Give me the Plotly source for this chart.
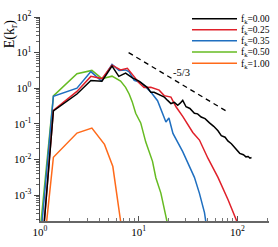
import plotly.graph_objects as go

# ---- data ----
k_f000 = [1.0, 1.367, 2.369, 3.276, 4.242, 5.365, 6.29, 7.366, 8.63, 10.07, 12.27, 13.26, 14.32,
          15.5, 16.77, 18.2, 19.63, 21.21, 23.0, 24.83, 26.3, 27.92, 30.17, 33.0, 36.67, 39.5,
          42.93, 47.0, 52.15, 57.5, 63.55, 68.67, 75.0, 80.0, 86.87, 95.0, 105.6, 115.0, 122.0,
          128.6, 134.0, 138.9]
E_f000 = [6e-6, 0.232, 0.688, 1.65, 1.58, 4.19, 2.15, 2.66, 1.95, 1.58, 1.04, 0.765, 0.765,
          0.70, 0.619, 0.56, 0.454, 0.37, 0.40, 0.333, 0.38, 0.454, 0.301, 0.27, 0.198, 0.19,
          0.155, 0.14, 0.106, 0.085, 0.0635, 0.0465, 0.042, 0.033, 0.0276, 0.021, 0.0148, 0.0135,
          0.0118, 0.0121, 0.0108, 0.0113]

k_f025 = [1.0, 1.367, 2.369, 3.276, 4.242, 5.365, 6.552, 7.67, 8.95, 10.0, 11.33, 13.26, 16.11,
          18.12, 21.21, 23.86, 27.92, 31.41, 35.32, 41.24, 50.23, 63.55, 80.38, 101.6]
E_f025 = [6e-6, 0.239, 0.814, 2.15, 1.86, 4.45, 3.26, 3.63, 2.15, 1.45, 1.04, 1.06, 0.883,
          0.619, 0.561, 0.301, 0.161, 0.0957, 0.0571, 0.035, 0.0108, 0.00313, 0.000733, 0.00015]

k_f035 = [1.0, 1.367, 2.369, 3.276, 4.193, 5.365, 6.32, 7.366, 8.0, 9.0, 10.48, 12.27, 13.26,
          15.52, 17.45, 18.86, 20.24, 22.23, 27.92, 31.41, 36.67, 41.24, 46.38, 48.28]
E_f035 = [4e-5, 0.589, 1.0, 2.93, 1.58, 4.65, 3.16, 3.26, 2.88, 1.65, 1.45, 0.94, 0.78,
          0.445, 0.198, 0.113, 0.145, 0.0537, 0.0165, 0.00794, 0.00313, 0.00111, 0.00032, 0.00015]

k_f050 = [1.0, 1.367, 2.369, 3.354, 4.242, 5.365, 6.552, 7.366, 8.0, 8.586, 9.32, 10.48, 11.79,
          13.8, 14.91, 16.77, 19.63]
E_f050 = [9e-5, 0.608, 2.54, 3.16, 1.86, 2.18, 1.58, 1.06, 0.688, 0.419, 0.198, 0.106, 0.0306,
          0.00883, 0.00306, 0.00113, 0.00015]

k_f100 = [1.0, 1.367, 2.369, 3.354, 4.5, 5.47, 6.7]
E_f100 = [3e-6, 0.0115, 0.0549, 0.0759, 0.0264, 0.0063, 0.00012]

slope_k = [7.9, 81.0]
slope_E = [10.0, 0.21]

labels = ["f<sub>k</sub>=0.00", "f<sub>k</sub>=0.25", "f<sub>k</sub>=0.35",
          "f<sub>k</sub>=0.50", "f<sub>k</sub>=1.00"]
colors = ["#000000", "#e0202a", "#1f6fc0", "#66bb22", "#ff6a1a"]

xtick_vals = [1, 10, 100]
xtick_text = ["10<sup>0</sup>", "10<sup>1</sup>", "10<sup>2</sup>"]
ytick_vals = [1e-3, 1e-2, 1e-1, 1, 10, 100]
ytick_text = ["10<sup>-3</sup>", "10<sup>-2</sup>", "10<sup>-1</sup>",
              "10<sup>0</sup>", "10<sup>1</sup>", "10<sup>2</sup>"]

FONT = "Liberation Serif"

fig = go.Figure()
series = [(k_f000, E_f000), (k_f025, E_f025), (k_f035, E_f035), (k_f050, E_f050), (k_f100, E_f100)]
# draw order: orange, green, blue, red, black on top
for i in [4, 3, 2, 1, 0]:
    kk, ee = series[i]
    fig.add_trace(go.Scatter(x=kk, y=ee, mode="lines", line=dict(color=colors[i], width=1.5),
                             showlegend=False, cliponaxis=True))

fig.add_trace(go.Scatter(x=slope_k, y=slope_E, mode="lines",
                         line=dict(color="black", width=1.3, dash="5px,4px"), showlegend=False))

W, H = 278, 247
L, R, T, B = 40, 9, 10, 25
pw, ph = W - L - R, H - T - B
XMAX = 2.32
XDEC, YDEC = pw / XMAX, 37.0  # pixels per decade


def px2paper(x, y):
    return (x - L) / pw, (H - B - y) / ph


def px2data(x, y):
    return 10 ** ((x - L) / XDEC), 10 ** ((84 - y) / YDEC)


# manual legend (lines as shapes, labels as a text trace)
rows = [11.7, 23.3, 34.6, 46.3, 58.0]
lab_x, lab_y = [], []
for i, ry in enumerate(rows):
    x0, y0 = px2paper(192, ry)
    x1, _ = px2paper(237, ry)
    fig.add_shape(type="line", xref="paper", yref="paper", x0=x0, x1=x1, y0=y0, y1=y0,
                  line=dict(color=colors[i], width=1.5))
    dx, dy = px2data(241, ry + 1)
    lab_x.append(dx)
    lab_y.append(dy)
fig.add_trace(go.Scatter(x=lab_x, y=lab_y, mode="text", text=labels, textposition="middle right",
                         textfont=dict(family=FONT, size=9.5, color="black"), cliponaxis=False,
                         showlegend=False, hoverinfo="skip"))

fig.add_annotation(x=1.43, y=0.43, xref="x", yref="y", text="-5/3", showarrow=False,
                   font=dict(family=FONT, size=10.5, color="black"), xanchor="center", yanchor="middle")

ax, ay = px2paper(10, 28)
fig.add_annotation(xref="paper", yref="paper", x=ax, y=ay, text="E(k<sub>r</sub>)", textangle=-90,
                   showarrow=False, xanchor="center", yanchor="middle",
                   font=dict(family=FONT, size=14, color="black"))
kx, ky = px2data(257, 238)
fig.add_trace(go.Scatter(x=[kx], y=[ky], mode="text", text=["κ"], textposition="middle center",
                         textfont=dict(family=FONT, size=13, color="black"), cliponaxis=False,
                         showlegend=False, hoverinfo="skip"))

fig.update_layout(
    width=W, height=H, margin=dict(l=L, r=R, t=T, b=B),
    paper_bgcolor="white", plot_bgcolor="white", showlegend=False,
    font=dict(family=FONT, size=11, color="black"),
    xaxis=dict(type="log", range=[0, XMAX], showgrid=False, zeroline=False,
               showline=True, linecolor="#666666", linewidth=1.5,
               ticks="inside", ticklen=5, tickcolor="#555555",
               tickvals=xtick_vals, ticktext=xtick_text,
               minor=dict(ticks="inside", ticklen=3, tickcolor="#777777", dtick="D1"),
               tickfont=dict(family=FONT, size=11, color="black")),
    yaxis=dict(type="log", range=[-3.73, 2.0], showgrid=False, zeroline=False,
               showline=True, linecolor="#444444", linewidth=1.5,
               ticks="outside", ticklen=5, tickcolor="#444444",
               tickvals=ytick_vals, ticktext=ytick_text,
               minor=dict(ticks="outside", ticklen=3, tickcolor="#666666", dtick="D1"),
               tickfont=dict(family=FONT, size=11, color="black")),
)

fig.write_html("out.html", config={"displayModeBar": False, "staticPlot": True},
               post_script="document.body.style.margin='0';document.body.style.overflow='hidden';")
